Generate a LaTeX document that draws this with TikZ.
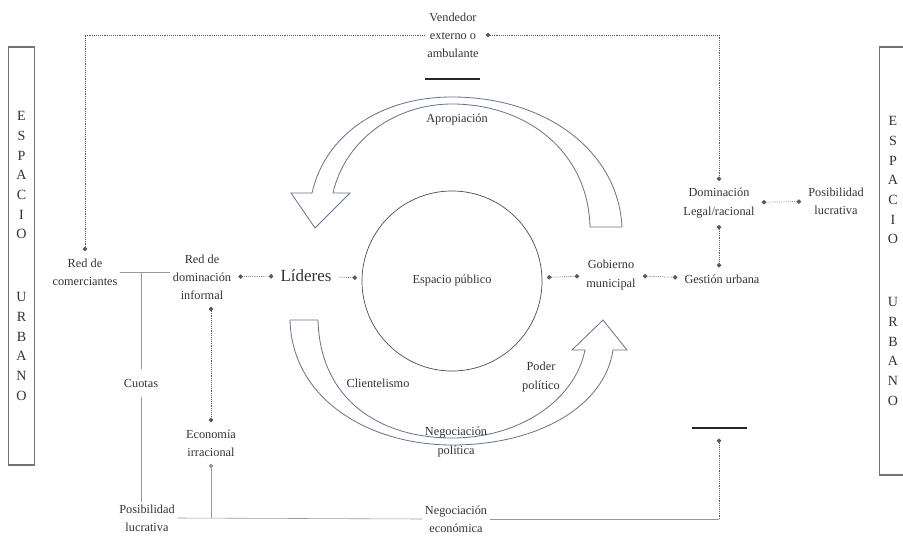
\documentclass[tikz,border=0pt]{standalone}
\usepackage{fontspec}
\setmainfont{Liberation Serif}
\usetikzlibrary{arrows.meta, positioning, calc}
\definecolor{contorno}{RGB}{105,115,145}

\begin{document}
\begin{tikzpicture}[
        x=0.03cm, y=-0.03cm,
        >={Circle[length=3.8pt]},
        txt/.style={
            align=center, inner sep=2pt, text=black!80,
            font=\fontsize{10.5}{15.5}\selectfont
        },
        marco/.style={
            rectangle, draw=black!55, line width=1pt, minimum width=0.8cm,
            inner sep=0pt, align=center, text=black!80,
            font=\fontsize{12}{16.8}\selectfont
        },
        link/.style={densely dotted, draw=black!65, line width=0.6pt, shorten >=4pt, shorten <=4pt},
        plain/.style={draw=black!40, line width=0.5pt},
        flecha/.style={draw=contorno, fill=white, line width=0.7pt},
        barra/.style={rectangle, fill=black!85, inner sep=0pt, minimum height=1.6pt, minimum width=1.65cm}
    ]

    \useasboundingbox (0,0) rectangle (903,537);

    % --- Espacio urbano ---
    \node[marco, minimum height=12.54cm] (espi) at (21.5,256) {E\\S\\P\\A\\C\\I\\O\\[37pt]U\\R\\B\\A\\N\\O};
    \node[marco, minimum height=12.84cm] (espd) at (893,261) {E\\S\\P\\A\\C\\I\\O\\[37pt]U\\R\\B\\A\\N\\O};

    % --- Curved arrows ---
    \draw[flecha] (622,227) .. controls (618,150) and (545,97) .. (452,97)
        .. controls (380,97) and (325,135) .. (312,193) -- (291,193) -- (315,228) -- (350,193) -- (333,193)
        .. controls (345,140) and (395,104) .. (452,104)
        .. controls (525,104) and (588,150) .. (590,227) -- cycle;
    \draw[flecha] (290,320) .. controls (292,400) and (370,445) .. (452,445)
        .. controls (540,445) and (605,405) .. (613,350) -- (627,350) -- (603,320) -- (572,350) -- (585,350)
        .. controls (575,400) and (520,438) .. (452,438)
        .. controls (380,438) and (320,400) .. (318,320) -- cycle;

    % --- Nodes ---
    \node[draw=black!70, line width=0.6pt, circle, minimum size=5.4cm, txt] (esp) at (452,281) {Espacio público};

    \node[txt] (vend) at (453,35) {Vendedor\\externo o\\ambulante};
    \node[barra] (bar1) at (452,79) {};

    \node[txt] (redc) at (85,272) {Red de\\comerciantes};
    \node[txt] (redd) at (202,277) {Red de\\dominación\\informal};
    \node[txt, font=\fontsize{14.5}{17}\selectfont] (lid) at (306,276) {Líderes};

    \node[txt] (gob) at (611,275) {Gobierno\\municipal};
    \node[txt] (gest) at (722,279) {Gestión urbana};
    \node[txt] (dom) at (719,203) {Dominación\\Legal/racional};
    \node[txt] (posr) at (836,201) {Posibilidad\\lucrativa};

    \node[txt] (cuotas) at (141,383) {Cuotas};
    \node[txt] (posl) at (147,518) {Posibilidad\\lucrativa};
    \node[txt] (econ) at (211,443) {Economía\\irracional};
    \node[txt] (neg) at (456,519) {Negociación\\económica};
    \node[barra] (bar2) at (719,428) {};

    % --- Labels on the arrows ---
    \node[txt] (apro) at (457,120) {Apropiación};
    \node[txt] (clien) at (378,383) {Clientelismo};
    \node[txt] (poder) at (541,377) {Poder\\político};
    \node[txt] (negp) at (456,442) {Negociación\\política};

    % --- Connections ---
    \draw[link, <->] (redd) -- (lid);
    \draw[link, ->] (lid) -- (esp);
    \draw[link, <->] (esp) -- (gob);
    \draw[link, <->] (gob) -- (gest);
    \draw[link, <->] (dom) -- (posr);
    \draw[link, <->] (dom.south) -- (dom.south |- gest.north);
    \draw[link, <->] (vend.east) -| (dom.north);
    \draw[link, ->, shorten <=0pt] (vend.west) -| (redc.north);
    \draw[link, <->] (econ.north |- redd.south) -- (econ.north);

    \draw[plain] (redc.east) -- (redc.east -| redd.west);
    \draw[plain, shorten >=6pt] (redc.east -| cuotas) -- (cuotas.north);
    \draw[plain, shorten <=6pt] (cuotas.south) -- (cuotas.south |- posl.north);
    \draw[plain] (posl.east) -- (neg.west);
    \draw[plain, ->, shorten >=4pt] (econ.south |- posl.east) -- (econ.south);
    \draw[plain] (neg.east) -- (neg.east -| bar2) coordinate (esq);
    \draw[link, ->, shorten <=0pt, shorten >=8pt] (esq) -- (bar2.south);

\end{tikzpicture}
\end{document}
